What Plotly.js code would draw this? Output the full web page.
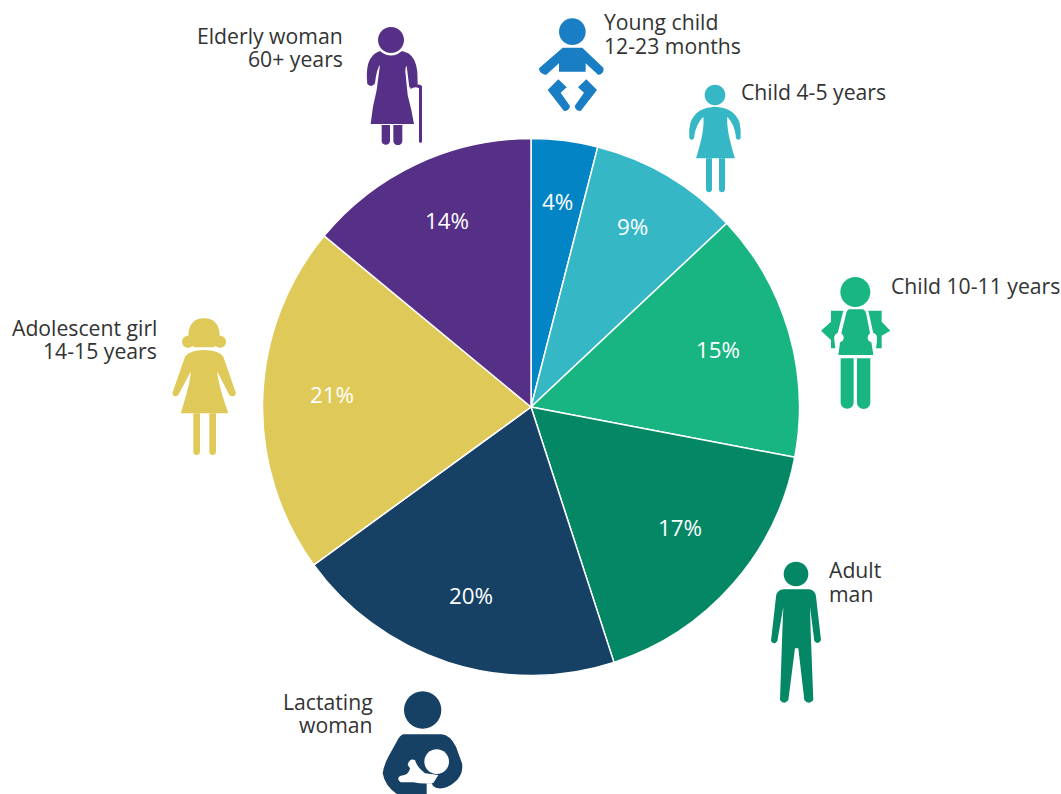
<!DOCTYPE html>
<html><head><meta charset="utf-8">
<script src="https://cdn.plot.ly/plotly-3.0.1.min.js"></script>
<style>html,body{margin:0;padding:0;background:#fff}#c{width:1061px;height:794px}</style>
</head><body><div id="c"></div>
<script>
const W=1061,H=794;
const groups=["Young child 12-23 months","Child 4-5 years","Child 10-11 years","Adult man","Lactating woman","Adolescent girl 14-15 years","Elderly woman 60+ years"];
const shares=[4,9,15,17,20,21,14];
const colors=["#0284C5","#36B7C6","#18B583","#038765","#174164","#DFCA59","#562F86"];
const shareLabelX=[557,632,718,680,471,332,447];
const shareLabelY=[202,226,349,527,595,394,220];
const labelLines=[
 ["Young child",603,21,"left"],["12-23 months",603,45,"left"],
 ["Child 4-5 years",740,92,"left"],
 ["Child 10-11 years",890,285,"left"],
 ["Adult",827.5,569,"left"],["man",827.5,593,"left"],
 ["Lactating",373.5,701,"right"],["woman",373.5,724,"right"],
 ["Adolescent girl",158,327,"right"],["14-15 years",158,351,"right"],
 ["Elderly woman",344,35,"right"],["60+ years",344,59,"right"]
];
function circ(cx,cy,r){const k=0.5523*r;return `M${cx-r},${cy}C${cx-r},${cy-k} ${cx-k},${cy-r} ${cx},${cy-r}C${cx+k},${cy-r} ${cx+r},${cy-k} ${cx+r},${cy}C${cx+r},${cy+k} ${cx+k},${cy+r} ${cx},${cy+r}C${cx-k},${cy+r} ${cx-r},${cy+k} ${cx-r},${cy}Z`;}
function leg(x0,x1,y0,y1){const b=y1+(x1-x0)*0.66;return `M${x0},${y0}L${x1},${y0}L${x1},${y1}C${x1},${b} ${x0},${b} ${x0},${y1}Z`;}
const icons=[
 {ox:340,oy:0,c:"#562F86",p:circ(153,120,39)+"M120,153Q153,180 186,153L205,160Q228,175 232,215L233,252Q225,262 208,262L200,198Q196,200 196,215L203,285Q215,330 222,372L92,372Q97,320 110,270L120,195Q110,205 105,250Q95,265 82,252Q78,215 85,190Q95,160 120,153Z"+leg(125,150,375,422)+leg(160,187,375,422)+"M210,258Q235,248 246,258L246,425Q241,432 237,425L237,265Q225,258 212,267Z"},
 {ox:340,oy:0,c:"#1A7EC4",p:circ(697,95,40)+"M668,143L727,143L790,203Q795,220 775,225L737,190L737,215L657,215L657,190L618,225Q597,220 597,205Z M655,238L680,262L662,278L690,318Q688,333 672,333L623,270Z M739,238L714,262L732,278L704,318Q706,333 722,333L771,270Z"},
 {ox:680,oy:70,c:"#36B7C6",p:circ(105,75,31)+"M105,110Q160,112 178,155Q184,180 182,205Q175,214 168,205Q166,165 142,140Q138,180 165,265L48,265Q75,180 70,140Q45,165 42,205Q35,214 28,205Q25,180 32,155Q50,112 105,110Z"+leg(78,96,265,358)+leg(117,135,265,358)},
 {ox:810,oy:265,c:"#19B582",p:circ(136,81,45)+"M63,137L100,137L83,205Q72,212 73,225L76,250L63,250L63,225L33,197L63,170Z M175,137L215,137L215,170L241,197L215,212L215,250L198,250L201,228Q200,212 190,205Z M118,133L158,133Q166,135 169,148L180,205L190,270L85,270L94,205L108,148Q110,135 118,133Z"+leg(92,131,280,412)+leg(141,181,280,412)},
 {ox:810,oy:265,c:"#FFFFFF",p:circ(87,218,14)+circ(187,218,14)},
 {ox:760,oy:555,c:"#038765",p:circ(108,57,37)+"M70,103L148,103Q165,105 168,125L183,255Q175,272 163,258L150,155L152,230L160,435Q146,452 133,435L115,280L105,280L85,435Q72,452 60,435L67,230L70,155L52,258Q43,272 33,258L48,125Q50,105 70,103Z"},
 {ox:370,oy:685,c:"#174164",p:circ(158,75,56)+"M100,148L215,148Q240,150 258,185L276,235Q282,270 250,295Q230,312 205,310Q190,308 185,295L170,295L170,330L85,330Q45,305 38,265Q40,245 55,215L80,170Q90,150 100,148Z"},
 {ox:370,oy:685,c:"#FFFFFF",p:circ(200,230,37)+"M113,240Q118,218 135,225Q140,245 165,265L205,270L190,294Q160,298 130,292L92,292Q78,282 90,273Q118,270 120,250Z"},
 {ox:160,oy:310,c:"#DFCA59",p:circ(84,95,18)+circ(180,95,18)+"M85,75Q88,25 132,25Q176,25 179,75Q179,105 160,112L105,112Q85,105 85,75Z M132,120Q175,120 190,140L228,250Q222,265 208,255L172,185Q172,215 205,310L62,310Q92,215 92,185L55,255Q42,265 37,250L75,140Q90,120 132,120Z"+leg(100,120,310,425)+leg(148,168,310,425)}
];
function toPaper(ic,sub){
 let i=0;
 return sub.replace(/-?\d+(\.\d+)?/g,s=>{const v=parseFloat(s);const o=(i++%2===0)?(ic.ox+v/3)/W:1-(ic.oy+v/3)/H;return o.toFixed(5);});
}
const shapes=[];
icons.forEach(ic=>{ic.p.split(/(?=M)/).forEach(sub=>{shapes.push({type:"path",xref:"paper",yref:"paper",path:toPaper(ic,sub.trim()),fillcolor:ic.c,line:{width:0},layer:"above"});});});
const annotations=labelLines.map(l=>({text:l[0],xref:"paper",yref:"paper",x:l[1]/W,y:1-l[2]/H,xanchor:l[3],yanchor:"middle",showarrow:false,borderpad:0,font:{family:"Open Sans",size:21.2,color:"#333333"}}))
.concat(shares.map((v,i)=>({text:v+"%",xref:"paper",yref:"paper",x:shareLabelX[i]/W,y:1-shareLabelY[i]/H,xanchor:"center",yanchor:"middle",showarrow:false,borderpad:0,font:{family:"Open Sans",size:22.4,color:"#ffffff"}})));
Plotly.newPlot("c",[{
 type:"pie",labels:groups,values:shares,sort:false,direction:"clockwise",rotation:0,
 marker:{colors:colors,line:{color:"#ffffff",width:1.5}},
 textinfo:"none",
 domain:{x:[262.5/W,799.5/W],y:[(H-676.5)/H,(H-137.5)/H]},hoverinfo:"label+percent"
}],{width:W,height:H,margin:{l:0,r:0,t:0,b:0,pad:0},showlegend:false,paper_bgcolor:"#fff",shapes:shapes,annotations:annotations},{displayModeBar:false,staticPlot:true});
</script></body></html>
